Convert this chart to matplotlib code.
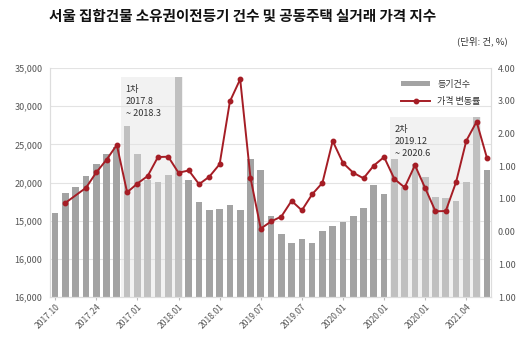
import matplotlib
matplotlib.use("Agg")
import matplotlib.pyplot as plt
from matplotlib.patches import Patch, Rectangle
from matplotlib.lines import Line2D

plt.rcParams["font.family"] = ["Noto Sans CJK KR", "DejaVu Sans"]

# monthly registration counts (bars, left axis)
reg_counts = [
    15970, 18590, 19450, 20890, 22390, 23730, 24600, 27400, 23800, 20330,
    20070, 21020, 33800, 20330, 17450, 16400, 16570, 17090, 16400, 23100,
    21640, 15610, 13250, 12110, 12560, 12110, 13690, 14300, 14870, 15570,
    16660, 19670, 18450, 23120, 19410, 22420, 20680, 18140, 17970, 17580,
    20030, 28600, 21640,
]

# price change rate (line, right axis), months where a point exists
price_months = [1] + list(range(3, 43))
price_change = [
    -0.12, 0.34, 0.81, 1.20, 1.65, 0.20, 0.47, 0.70, 1.28, 1.29,
    0.80, 0.87, 0.45, 0.68, 1.06, 2.98, 3.66, 0.65, -0.91, -0.69,
    -0.54, -0.06, -0.35, 0.14, 0.49, 1.77, 1.10, 0.80, 0.63, 1.02,
    1.28, 0.61, 0.35, 1.03, 0.33, -0.38, -0.37, 0.51, 1.78, 2.36,
    1.26,
]

x_tick_months = [0, 4, 8, 12, 16, 20, 24, 28, 32, 36, 40]
x_tick_labels = ["2017.10", "2017.24", "2017.01", "2018.01", "2018.01", "2019.07",
                 "2019.07", "2020.01", "2020.01", "2020.01", "2021.04"]

left_ticks = [5000, 10000, 15000, 20000, 25000, 30000, 35000]
left_labels = ["16,000", "16,000", "15,000", "20,000", "25,000", "30,000", "35,000"]
right_ticks = [-3, -2, -1, 0, 1, 2, 3, 4]
right_labels = ["1.00", "1.00", "0.00", "1.00", "1.00", "2.00", "3.00", "4.00"]

# highlighted periods: (label lines, first month edge, last month edge, top)
periods = [
    (["1차", "2017.8", "~ 2018.3"], 6.4, 12.45, 33800),
    (["2차", "2019.12", "~ 2020.6"], 32.6, 41.45, 28600),
]

bar_color = "#a3a3a3"
line_color = "#a51d25"
text_color = "#555555"

fig = plt.figure(figsize=(5.3, 3.53), dpi=100)
ax = fig.add_axes([0.0934, 0.1586, 0.8330, 0.6485])
ax2 = ax.twinx()

months = list(range(len(reg_counts)))
ax.bar(months, reg_counts, width=0.65, color=bar_color, zorder=2)

for lines, x0, x1, top in periods:
    ax.add_patch(Rectangle((x0, 5000), x1 - x0, top - 5000,
                           facecolor="#e4e4e4", alpha=0.45, edgecolor="none", zorder=3))
    for k, s in enumerate(lines):
        ax.text(x0 + 0.45, top - 1000 - k * 1600, s, fontsize=6.6,
                color="#333333", va="top", ha="left", zorder=4)

ax.set_xlim(-0.55, 42.4)
ax.set_ylim(5000, 35000)
ax.set_yticks(left_ticks)
ax.set_yticklabels(left_labels)
ax.grid(axis="y", color="#e3e3e3", lw=0.8, zorder=0)
ax.set_axisbelow(True)

ax.set_xticks(x_tick_months)
ax.set_xticklabels(x_tick_labels, rotation=45, ha="right", rotation_mode="anchor")
ax.tick_params(axis="x", length=2, color="#bbbbbb", labelsize=6.2, labelcolor=text_color, pad=2)
ax.tick_params(axis="y", length=0, labelsize=6.5, labelcolor=text_color, pad=5)

ax2.plot(price_months, price_change, color=line_color, lw=1.4, marker="o",
         markersize=3.2, zorder=5)
ax2.set_ylim(-3, 4)
ax2.set_yticks(right_ticks)
ax2.set_yticklabels(right_labels)
ax2.tick_params(axis="y", length=0, labelsize=6.5, labelcolor=text_color, pad=5)

for a in (ax, ax2):
    for side in ("left", "right", "top", "bottom"):
        a.spines[side].set_color("#dddddd")
        a.spines[side].set_linewidth(0.8)
    a.spines["top"].set_visible(False)

handles = [
    Patch(facecolor=bar_color, edgecolor="none"),
    Line2D([], [], color=line_color, lw=1.4, marker="o", markersize=3.2),
]
ax2.legend(handles, ["등기건수", "가격 변동률"], loc="upper right",
           bbox_to_anchor=(0.995, 0.985), frameon=False, fontsize=6.5,
           handlelength=3.2, handleheight=0.6, labelspacing=0.9,
           labelcolor="#333333")

fig.text(0.092, 0.955, "서울 집합건물 소유권이전등기 건수 및 공동주택 실거래 가격 지수",
         fontsize=10.5, fontweight="bold", ha="left", va="center", color="#111111")
fig.text(0.958, 0.882, "(단위: 건, %)", fontsize=6.8, ha="right", va="center",
         color="#333333")

fig.savefig("out.png", dpi=100, facecolor="white")
